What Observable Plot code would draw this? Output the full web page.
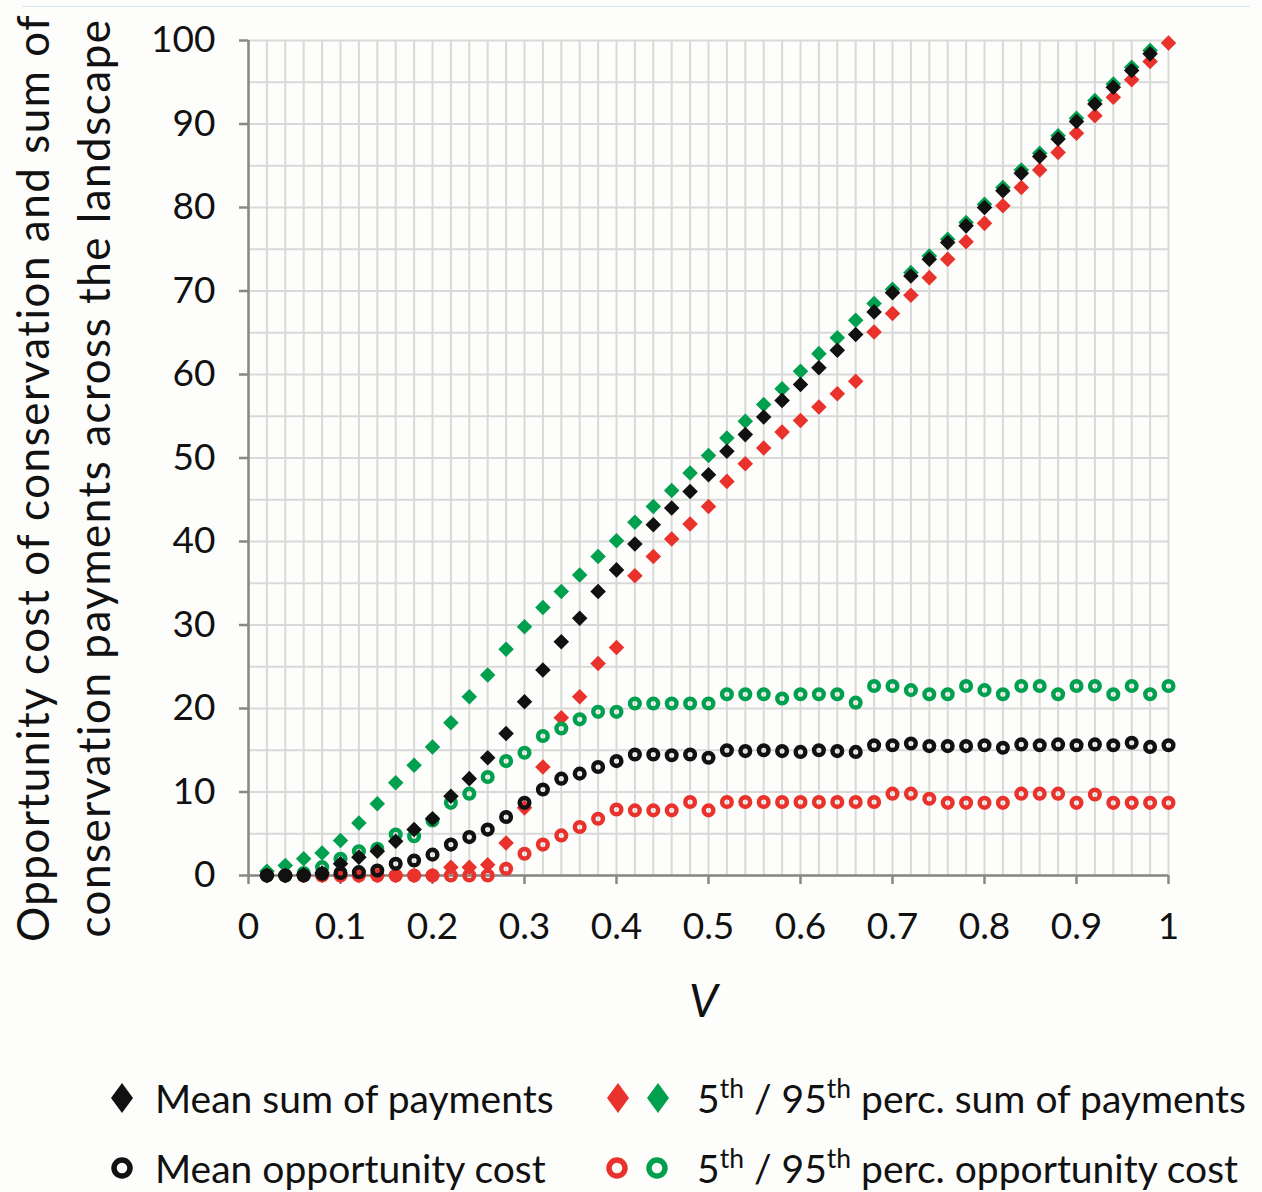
<!DOCTYPE html>
<html>
<head>
<meta charset="utf-8">
<script src="https://cdn.jsdelivr.net/npm/d3@7"></script>
<script src="https://cdn.jsdelivr.net/npm/@observablehq/plot@0.6"></script>
<style>
  html, body { margin: 0; padding: 0; background: #fdfdfb; }
  #wrap { width: 1262px; position: relative; }
  #topline { position: absolute; left: 22px; top: 6px; width: 1228px; height: 0; border-top: 1px solid #d6e4f2; }
  #legend { position: relative; width: 1262px; height: 152px; font-family: Lato, sans-serif; color: #111; }
  .sym { position: absolute; }
  .lt { position: absolute; font-size: 39px; line-height: 1; white-space: nowrap; transform: translateY(-50%); }
  .lt sup { font-size: 0.68em; vertical-align: 0.55em; line-height: 0; }
</style>
</head>
<body>
<div id="wrap">
  <div id="topline"></div>
  <div id="chart"></div>
  <div id="legend"></div>
</div>
<script>
// ---- data ----
const V = [0.02,0.04,0.06,0.08,0.10,0.12,0.14,0.16,0.18,0.20,
           0.22,0.24,0.26,0.28,0.30,0.32,0.34,0.36,0.38,0.40,
           0.42,0.44,0.46,0.48,0.50,0.52,0.54,0.56,0.58,0.60,
           0.62,0.64,0.66,0.68,0.70,0.72,0.74,0.76,0.78,0.80,
           0.82,0.84,0.86,0.88,0.90,0.92,0.94,0.96,0.98,1.00];

// Mean sum of payments (black diamonds)
const meanPay = [0,0,0.1,0.3,1.4,2.2,2.9,4.1,5.5,6.8,
                 9.5,11.6,14.1,17.0,20.8,24.6,28.0,30.8,34.0,36.6,
                 39.7,42.0,44.0,46.0,48.0,50.8,52.8,54.9,56.9,58.8,
                 60.8,62.9,64.8,67.5,69.8,71.8,73.8,75.8,77.8,80.0,
                 82.0,84.1,86.1,88.2,90.3,92.4,94.4,96.4,98.4,null];

// 5th percentile sum of payments (red diamonds)
const p5Pay = [0,0,0,0,0,0,0,0,0,0,
               1.0,1.0,1.3,3.9,8.1,13.0,18.9,21.4,25.4,27.3,
               35.9,38.2,40.3,42.1,44.2,47.2,49.3,51.2,53.1,54.5,
               56.1,57.7,59.2,65.1,67.3,69.5,71.6,73.8,75.9,78.1,
               80.2,82.4,84.5,86.6,88.9,91.0,93.2,95.3,97.5,99.7];

// 95th percentile sum of payments (green diamonds)
const p95Pay = [0.5,1.2,2.0,2.7,4.2,6.3,8.6,11.1,13.2,15.4,
                18.3,21.4,24.0,27.1,29.8,32.1,34.0,36.0,38.2,40.1,
                42.3,44.2,46.1,48.2,50.3,52.4,54.4,56.4,58.3,60.4,
                62.5,64.4,66.5,68.5,70.2,72.2,74.2,76.2,78.2,80.4,
                82.4,84.5,86.5,88.6,90.7,92.8,94.8,96.8,98.8,null];

// Mean opportunity cost (black circles)
const meanOpp = [0,0,0,0.2,0.3,0.4,0.6,1.4,1.8,2.5,
                 3.7,4.6,5.5,7.0,8.7,10.3,11.6,12.2,13.0,13.7,
                 14.5,14.5,14.4,14.5,14.1,15.0,14.9,15.0,14.9,14.8,
                 15.0,14.9,14.8,15.6,15.6,15.8,15.5,15.5,15.5,15.6,
                 15.3,15.7,15.6,15.7,15.6,15.7,15.6,15.9,15.4,15.6];

// 5th percentile opportunity cost (red circles)
const p5Opp = [0,0,0,0,0,0,0,0,0,0,
               0,0,0,0.8,2.6,3.7,4.8,5.8,6.8,7.9,
               7.8,7.8,7.8,8.8,7.8,8.8,8.8,8.8,8.8,8.8,
               8.8,8.8,8.8,8.8,9.8,9.8,9.2,8.7,8.7,8.7,
               8.7,9.8,9.8,9.8,8.7,9.7,8.7,8.7,8.7,8.7];

// 95th percentile opportunity cost (green circles)
const p95Opp = [0,0,0.3,1.0,2.0,2.9,3.2,4.9,4.7,6.6,
                8.7,9.8,11.8,13.7,14.7,16.7,17.6,18.7,19.6,19.6,
                20.6,20.6,20.6,20.6,20.6,21.7,21.7,21.7,21.2,21.7,
                21.7,21.7,20.7,22.7,22.7,22.2,21.7,21.7,22.7,22.2,
                21.7,22.7,22.7,21.7,22.7,22.7,21.7,22.7,21.7,22.7];

const xTicks = [0,0.1,0.2,0.3,0.4,0.5,0.6,0.7,0.8,0.9,1];
const xTickLabels = ["0","0.1","0.2","0.3","0.4","0.5","0.6","0.7","0.8","0.9","1"];
const yTicks = [0,10,20,30,40,50,60,70,80,90,100];
const xGrid = [0,0.02,0.04,0.06,0.08,0.1,0.12,0.14,0.16,0.18,0.2,0.22,0.24,0.26,0.28,0.3,
               0.32,0.34,0.36,0.38,0.4,0.42,0.44,0.46,0.48,0.5,0.52,0.54,0.56,0.58,0.6,
               0.62,0.64,0.66,0.68,0.7,0.72,0.74,0.76,0.78,0.8,0.82,0.84,0.86,0.88,0.9,
               0.92,0.94,0.96,0.98,1];
const yGrid = [0,5,10,15,20,25,30,35,40,45,50,55,60,65,70,75,80,85,90,95,100];

const yLabel1 = "Opportunity cost of conservation and sum of";
const yLabel2 = "conservation payments across the landscape";
const xLabel = "V";

const legendItems = [
  {label: "Mean sum of payments"},
  {label: "Mean opportunity cost"},
  {label: "5<sup>th</sup> / 95<sup>th</sup> perc. sum of payments"},
  {label: "5<sup>th</sup> / 95<sup>th</sup> perc. opportunity cost"}
];

// ---- build ----
const RED = "#e8322b", GREEN = "#00a04e", BLACK = "#111111", AXIS = "#8a8784", GRID = "#d9d9d9";
const rows = V.map((v, i) => ({v, meanPay: meanPay[i], p5Pay: p5Pay[i], p95Pay: p95Pay[i],
                              meanOpp: meanOpp[i], p5Opp: p5Opp[i], p95Opp: p95Opp[i]}));

const diamond = (key, color) => Plot.dot(rows, {x: "v", y: key, symbol: "diamond2", r: 7, fill: color, stroke: "none"});
const ring = (key, color) => Plot.dot(rows, {x: "v", y: key, r: 4.8, fill: "none", stroke: color, strokeWidth: 4.5});

const chart = Plot.plot({
  width: 1262,
  height: 1040,
  marginLeft: 248,
  marginRight: 94,
  marginTop: 40,
  marginBottom: 165,
  x: {domain: [0, 1]},
  y: {domain: [0, 100]},
  style: {background: "transparent", fontFamily: "Lato, sans-serif", color: BLACK, overflow: "visible"},
  marks: [
    Plot.gridX(xGrid, {stroke: GRID, strokeOpacity: 1, strokeWidth: 2}),
    Plot.gridY(yGrid, {stroke: GRID, strokeOpacity: 1, strokeWidth: 2}),
    Plot.ruleX([0], {stroke: AXIS, strokeWidth: 2.5}),
    Plot.ruleY([0], {stroke: AXIS, strokeWidth: 2.5}),
    Plot.axisY(yTicks, {tickSize: 9, tickPadding: 24, fontSize: 37, stroke: AXIS, strokeWidth: 2.5, label: null}),
    Plot.axisX(xTicks, {tickSize: 9, tickPadding: 28, fontSize: 37, stroke: AXIS, strokeWidth: 2.5, label: null,
                        tickFormat: (d, i) => xTickLabels[i]}),
    diamond("p5Pay", RED),
    diamond("p95Pay", GREEN),
    ring("p5Opp", RED),
    ring("p95Opp", GREEN),
    ring("meanOpp", BLACK),
    diamond("meanPay", BLACK),
    Plot.text([xLabel], {text: d => d, frameAnchor: "bottom", lineAnchor: "middle", textAnchor: "middle",
                         dx: -5, dy: 127, fontSize: 46, fontStyle: "italic"}),
    Plot.text([yLabel1], {text: d => d, frameAnchor: "left", textAnchor: "middle", lineAnchor: "middle",
                          rotate: -90, dx: -214, dy: 20, fontSize: 44, className: "ylab"}),
    Plot.text([yLabel2], {text: d => d, frameAnchor: "left", textAnchor: "middle", lineAnchor: "middle",
                          rotate: -90, dx: -153, dy: 20, fontSize: 44, className: "ylab"})
  ]
});
chart.querySelectorAll("g.ylab text, .ylab text").forEach(t => t.setAttribute("letter-spacing", "1.5"));
document.getElementById("chart").appendChild(chart);

// ---- legend (HTML below the SVG) ----
const legend = document.getElementById("legend");
const rowY = [58, 128];
function addSym(svgInner, cx, cy, w, h) {
  const d = document.createElement("div");
  d.className = "sym";
  d.style.left = (cx - w / 2) + "px";
  d.style.top = (cy - h / 2) + "px";
  d.innerHTML = `<svg width="${w}" height="${h}" viewBox="${-w/2} ${-h/2} ${w} ${h}">${svgInner}</svg>`;
  legend.appendChild(d);
}
const dia = c => `<path d="M0,-15L11,0L0,15L-11,0Z" fill="${c}"/>`;
const rng = c => `<circle r="8" fill="none" stroke="${c}" stroke-width="5.5"/>`;
function addText(html, x, y) {
  const t = document.createElement("div");
  t.className = "lt";
  t.style.left = x + "px";
  t.style.top = y + "px";
  t.innerHTML = html;
  legend.appendChild(t);
}
addSym(dia(BLACK), 122, rowY[0], 26, 34);
addText(legendItems[0].label, 155, rowY[0]);
addSym(dia(RED), 618, rowY[0], 26, 34);
addSym(dia(GREEN), 658, rowY[0], 26, 34);
addText(legendItems[2].label, 697, rowY[0]);
addSym(rng(BLACK), 122, rowY[1], 26, 26);
addText(legendItems[1].label, 155, rowY[1]);
addSym(rng(RED), 617, rowY[1], 26, 26);
addSym(rng(GREEN), 657, rowY[1], 26, 26);
addText(legendItems[3].label, 697, rowY[1]);
</script>
</body>
</html>
